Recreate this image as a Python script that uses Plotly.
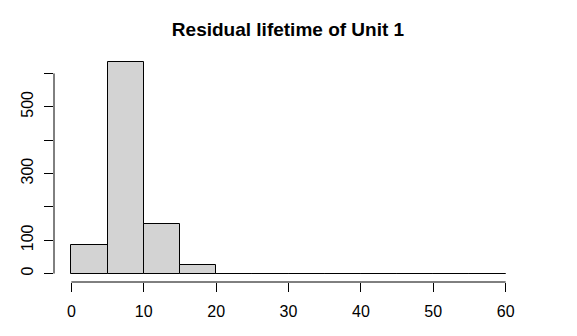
import plotly.graph_objects as go

# histogram of residual lifetime, bins of width 5
bin_edges = [0, 5, 10, 15, 20, 25, 30, 35, 40, 45, 50, 55, 60]
counts = [87, 633, 148, 27, 0, 0, 0, 0, 0, 0, 0, 0]

x_ticks = [0, 10, 20, 30, 40, 50, 60]
y_ticks = [0, 100, 200, 300, 400, 500, 600]
y_labels = ["0", "100", "", "300", "", "500", ""]

FONT = "Liberation Sans, Arial, sans-serif"

centers = [(a + b) / 2 for a, b in zip(bin_edges[:-1], bin_edges[1:])]
widths = [b - a for a, b in zip(bin_edges[:-1], bin_edges[1:])]

fig = go.Figure()
fig.add_trace(go.Bar(
    x=centers, y=counts, width=widths,
    marker=dict(color="#D3D3D3", line=dict(color="black", width=1)),
    showlegend=False, hoverinfo="x+y",
))

# R-style axis lines: only span the tick range
fig.add_shape(type="line", xref="x", yref="paper",
              x0=min(x_ticks), x1=max(x_ticks), y0=0, y1=0,
              line=dict(color="black", width=1))
fig.add_shape(type="line", xref="paper", yref="y",
              x0=0, x1=0, y0=min(y_ticks), y1=max(y_ticks),
              line=dict(color="black", width=1))

# page body has an 8px margin, so the figure sits 8px in from the window edge
fig.update_layout(
    width=577, height=336,
    paper_bgcolor="white", plot_bgcolor="white",
    margin=dict(l=46, r=62, t=46, b=62, pad=0),
    bargap=0,
    font=dict(family=FONT, size=16, color="black"),
    title=dict(text="<b>Residual lifetime of Unit 1</b>", x=(288 - 8) / 577, xanchor="center",
               y=1 - 21 / 336, yanchor="middle",
               font=dict(family=FONT, size=19, color="black")),
    xaxis=dict(range=[-2.4, 62.4], tickvals=x_ticks, ticks="outside", ticklen=9,
               tickcolor="black", showgrid=False, zeroline=False, showline=False,
               ticklabelstandoff=6),
    yaxis=dict(range=[-25.3, 658.3], tickvals=y_ticks, ticktext=y_labels,
               tickangle=-90, ticks="outside", ticklen=9, tickcolor="black",
               showgrid=False, zeroline=False, showline=False,
               ticklabelstandoff=5),
)

fig.write_html("out.html")
